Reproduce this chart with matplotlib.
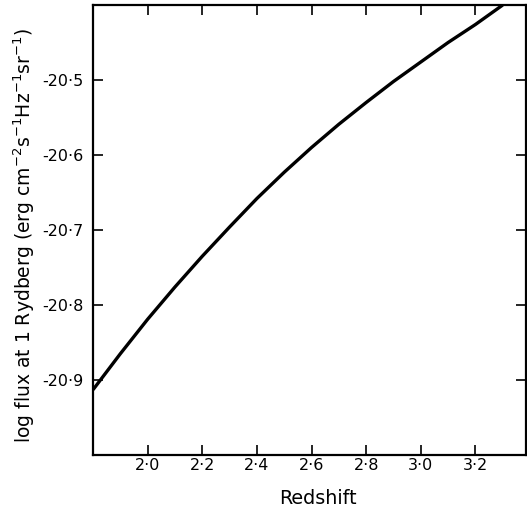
import matplotlib
matplotlib.use('Agg')
import matplotlib.pyplot as plt

# values (every 0.1 in redshift)
redshift = [1.8, 1.9, 2.0, 2.1, 2.2, 2.3, 2.4, 2.5, 2.6, 2.7, 2.8, 2.9,
            3.0, 3.1, 3.2, 3.3]
log_flux = [-20.913, -20.865, -20.819, -20.776, -20.735, -20.696, -20.658,
            -20.623, -20.590, -20.559, -20.530, -20.502, -20.476, -20.450,
            -20.426, -20.400]

xticks = [2.0, 2.2, 2.4, 2.6, 2.8, 3.0, 3.2]
xtick_labels = ['2·0', '2·2', '2·4', '2·6', '2·8', '3·0', '3·2']
yticks = [-20.9, -20.8, -20.7, -20.6, -20.5]
ytick_labels = ['-20·9', '-20·8', '-20·7', '-20·6', '-20·5']


def main():
    plt.rcParams['font.family'] = ['DejaVu Sans']
    fig = plt.figure(figsize=(5.27, 5.11), dpi=100)
    ax = fig.add_axes([0.1765, 0.1096, 0.8215, 0.8806])

    ax.plot(redshift, log_flux, color='black', lw=2.4, solid_capstyle='butt',
            solid_joinstyle='round')

    ax.set_xlim(1.8, 3.385)
    ax.set_ylim(-21.0, -20.4)
    ax.set_xticks(xticks)
    ax.set_xticklabels(xtick_labels)
    ax.set_yticks(yticks)
    ax.set_yticklabels(ytick_labels)
    ax.tick_params(direction='in', length=7, width=1.2, top=True, right=True,
                   labelsize=11.5)
    ax.tick_params(axis='x', pad=2)
    ax.tick_params(axis='y', pad=7)

    for s in ax.spines.values():
        s.set_linewidth(1.6)

    ax.set_xlabel('Redshift', fontsize=13.8)
    ax.set_ylabel('log flux at 1 Rydberg (erg cm$^{-2}$s$^{-1}$Hz$^{-1}$sr$^{-1}$)',
                  fontsize=13.5)
    ax.xaxis.set_label_coords(0.52, -0.075)
    ax.yaxis.set_label_coords(-0.13, 0.487)

    fig.savefig('out.png', dpi=100)


if __name__ == '__main__':
    main()
